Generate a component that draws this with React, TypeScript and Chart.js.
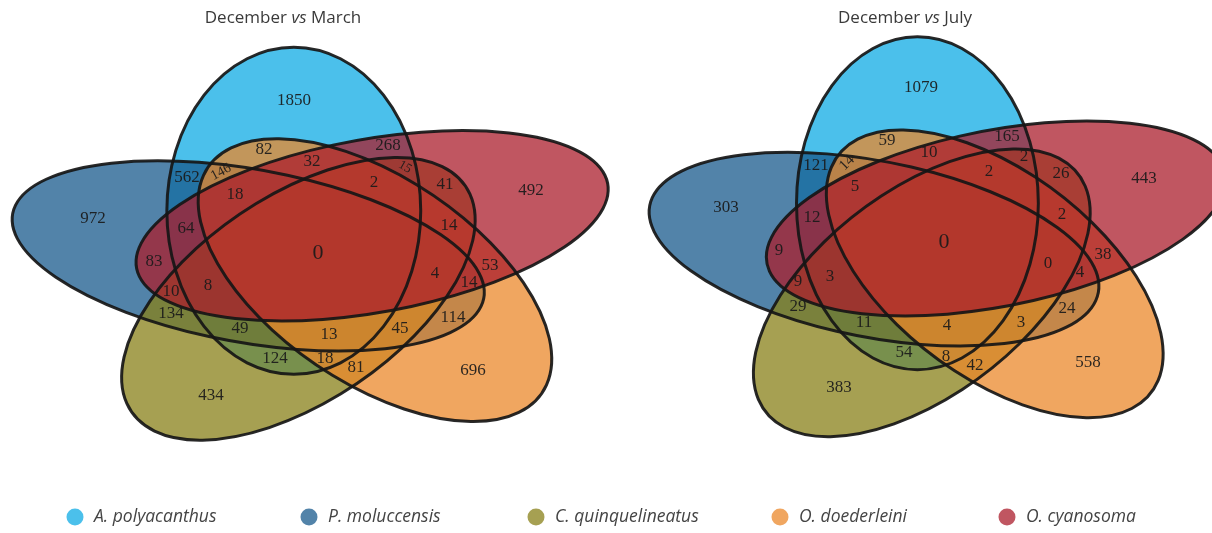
import { useEffect, useRef } from "react";
import { Chart, registerables } from "chart.js";

Chart.register(...registerables);

const W = 1212;
const H = 533;

// Five species, in painting order
const speciesNames = ["A. polyacanthus", "P. moluccensis", "C. quinquelineatus", "O. doederleini", "O. cyanosoma"];
const speciesLegendColors = ["#4BC0EB", "#5283A9", "#A6A052", "#F0A660", "#C05661"];
const speciesFillColors = [
  "rgba(15,171,228,0.75)",
  "rgba(24,90,140,0.75)",
  "rgba(136,128,24,0.75)",
  "rgba(235,136,43,0.75)",
  "rgba(171,30,44,0.75)",
];

// Region keys: letters = species shared (A..E in the order above)
const regionKeys = [
  "A", "B", "C", "D", "E",
  "AB", "AC", "AD", "AE", "BC", "BD", "BE", "CD", "CE", "DE",
  "ABC", "ABD", "ABE", "ACD", "ACE", "ADE", "BCD", "BCE", "BDE", "CDE",
  "ABCD", "ABCE", "ABDE", "ACDE", "BCDE",
  "ABCDE",
];

const marchCounts = [
  1850, 972, 434, 696, 492,
  562, 124, 82, 268, 134, 114, 83, 81, 41, 53,
  49, 146, 64, 18, 15, 32, 45, 10, 14, 14,
  13, 8, 18, 2, 4,
  0,
];

const julyCounts = [
  1079, 303, 383, 558, 443,
  121, 54, 59, 165, 29, 24, 9, 42, 26, 38,
  11, 14, 12, 8, 2, 10, 3, 9, 4, 2,
  4, 3, 5, 2, 0,
  0,
];

// Label anchors (same order as regionKeys)
const marchAnchors: [number, number][] = [
  [294, 101], [93, 219], [211, 396], [473, 371], [531, 191],
  [187, 178], [275, 359], [264, 150], [388, 146], [171, 314], [453, 318], [154, 262], [356, 368], [445, 185], [490, 266],
  [240, 329], [221, 172], [186, 229], [325, 359], [405, 167], [312, 162], [400, 329], [171, 292], [469, 283], [449, 226],
  [329, 335], [208, 286], [235, 195], [374, 183], [435, 274],
  [318, 253],
];

const julyAnchors: [number, number][] = [
  [921, 88], [726, 208], [839, 388], [1088, 363], [1144, 179],
  [816, 166], [904, 353], [887, 141], [1007, 137], [798, 307], [1067, 309], [779, 251], [975, 366], [1061, 174], [1103, 255],
  [864, 323], [847, 163], [812, 218], [946, 357], [1024, 157], [929, 153], [1021, 323], [798, 282], [1080, 273], [1062, 215],
  [947, 326], [830, 277], [855, 187], [989, 172], [1048, 264],
  [944, 242],
];

// Symmetric five-ellipse layout (before the per-panel stretch)
const SEMI_MAJOR = 163.5;
const SEMI_MINOR = 84.8;
const CENTER_OFFSET = 46.3;
const centerAngles = [-110, 178, 106, 34, -38]; // A, B, C, D, E
const AXIS_TURN = 20;

type Panel = {
  title: [string, string, string];
  counts: number[];
  anchors: [number, number][];
  tilts: Record<string, number>;
  smallKeys: Record<string, number>;
  cx: number;
  cy: number;
  sx: number;
  sy: number;
  shiftX: number[];
  grow: number[];
  titleX: number;
  titleY: number;
};

const panels: Panel[] = [
  {
    title: ["December ", "vs", " March"],
    counts: marchCounts,
    anchors: marchAnchors,
    tilts: { ABD: -28, ACE: 30 },
    smallKeys: { ABD: 14, ACE: 13 },
    cx: 317.5, cy: 254.3, sx: 1.497, sy: 1.0,
    shiftX: [0, 0, 0, 0, 0],
    grow: [1, 1, 1, 1, 1],
    titleX: 283, titleY: 18,
  },
  {
    title: ["December ", "vs", " July"],
    counts: julyCounts,
    anchors: julyAnchors,
    tilts: { ABD: -45 },
    smallKeys: { ABD: 15 },
    cx: 940, cy: 247.5, sx: 1.426, sy: 1.018,
    shiftX: [0, 0, 0, 0, 4],
    grow: [1, 1, 1, 1, 1.022],
    titleX: 905, titleY: 18,
  },
];

const legendCircleX = [75, 309, 536, 780, 1007];
const LEGEND_Y = 517;

function ellipsePath(chart: any, panel: Panel, k: number) {
  const { ctx } = chart;
  const xs = chart.scales.x;
  const ys = chart.scales.y;
  const phi = (centerAngles[k] * Math.PI) / 180;
  const psi = ((centerAngles[k] + AXIS_TURN) * Math.PI) / 180;
  const cxv = panel.cx + panel.sx * CENTER_OFFSET * Math.cos(phi) + panel.shiftX[k];
  const cyv = panel.cy + panel.sy * CENTER_OFFSET * Math.sin(phi);
  const px = xs.getPixelForValue(cxv);
  const py = ys.getPixelForValue(cyv);
  const kx = xs.getPixelForValue(1) - xs.getPixelForValue(0);
  const ky = ys.getPixelForValue(1) - ys.getPixelForValue(0);
  ctx.save();
  ctx.translate(px, py);
  ctx.scale(panel.sx * kx, panel.sy * ky);
  ctx.rotate(psi);
  ctx.beginPath();
  ctx.ellipse(0, 0, SEMI_MAJOR * panel.grow[k], SEMI_MINOR, 0, 0, Math.PI * 2);
  ctx.restore();
}

const vennPlugin = {
  id: "vennEllipses",
  beforeDatasetsDraw(chart: any) {
    const { ctx } = chart;
    ctx.save();
    panels.forEach((panel) => {
      for (let k = 0; k < 5; k++) {
        ellipsePath(chart, panel, k);
        ctx.fillStyle = speciesFillColors[k];
        ctx.fill();
      }
      ctx.lineWidth = 3;
      ctx.strokeStyle = "rgba(22,22,22,0.92)";
      for (let k = 0; k < 5; k++) {
        ellipsePath(chart, panel, k);
        ctx.stroke();
      }
    });
    ctx.restore();
  },
  afterDatasetsDraw(chart: any) {
    const { ctx } = chart;
    const xs = chart.scales.x;
    const ys = chart.scales.y;
    ctx.save();
    // region counts
    chart.data.datasets.forEach((ds: any, di: number) => {
      const panel = panels[di];
      const meta = chart.getDatasetMeta(di);
      meta.data.forEach((pt: any, i: number) => {
        const key = regionKeys[i];
        const size = key === "ABCDE" ? 22 : panel.smallKeys[key] || 17;
        ctx.save();
        ctx.translate(pt.x, pt.y);
        const tilt = panel.tilts[key];
        if (tilt) ctx.rotate((tilt * Math.PI) / 180);
        ctx.font = `${size}px "Liberation Serif"`;
        ctx.fillStyle = "rgba(26,26,26,0.92)";
        ctx.textAlign = "center";
        ctx.textBaseline = "middle";
        ctx.fillText(String(ds.counts[i]), 0, 0);
        ctx.restore();
      });
    });
    // panel titles
    panels.forEach((panel) => {
      const fonts = ['17px "Open Sans"', 'italic 17px "Open Sans"', '17px "Open Sans"'];
      const widths = panel.title.map((t, i) => {
        ctx.font = fonts[i];
        return ctx.measureText(t).width;
      });
      const total = widths.reduce((s, w) => s + w, 0);
      let x0 = xs.getPixelForValue(panel.titleX) - total / 2;
      const y0 = ys.getPixelForValue(panel.titleY);
      ctx.fillStyle = "#3a3a3a";
      ctx.textBaseline = "middle";
      ctx.textAlign = "left";
      panel.title.forEach((t, i) => {
        ctx.font = fonts[i];
        ctx.fillText(t, x0, y0);
        x0 += widths[i];
      });
    });
    // legend
    speciesNames.forEach((name, k) => {
      const cx = xs.getPixelForValue(legendCircleX[k]);
      const cy = ys.getPixelForValue(LEGEND_Y);
      ctx.beginPath();
      ctx.arc(cx, cy, 8.5, 0, Math.PI * 2);
      ctx.fillStyle = speciesLegendColors[k];
      ctx.fill();
      ctx.font = 'italic 17.5px "Open Sans"';
      ctx.fillStyle = "#444444";
      ctx.textAlign = "left";
      ctx.textBaseline = "middle";
      ctx.fillText(name, cx + 19, cy);
    });
    ctx.restore();
  },
};

export default function App() {
  const canvasRef = useRef<HTMLCanvasElement | null>(null);

  useEffect(() => {
    const canvas = canvasRef.current;
    if (!canvas) return;
    const chart = new Chart(canvas, {
      type: "scatter",
      data: {
        datasets: panels.map((panel) => ({
          label: panel.title.join(""),
          data: panel.anchors.map(([x, y]) => ({ x, y })),
          counts: panel.counts,
          pointRadius: 0,
          pointHoverRadius: 0,
          showLine: false,
        })) as any,
      },
      options: {
        animation: false,
        responsive: false,
        events: [],
        layout: { padding: 0 },
        plugins: {
          legend: { display: false },
          tooltip: { enabled: false },
          title: { display: false },
        },
        scales: {
          x: { type: "linear", display: false, min: 0, max: W },
          y: { type: "linear", display: false, min: 0, max: H, reverse: true },
        },
      },
      plugins: [vennPlugin],
    });
    return () => chart.destroy();
  }, []);

  return (
    <div style={{ position: "absolute", left: 0, top: 0, width: W, height: H, background: "#fff" }}>
      <canvas ref={canvasRef} width={W} height={H} style={{ display: "block" }} />
    </div>
  );
}
